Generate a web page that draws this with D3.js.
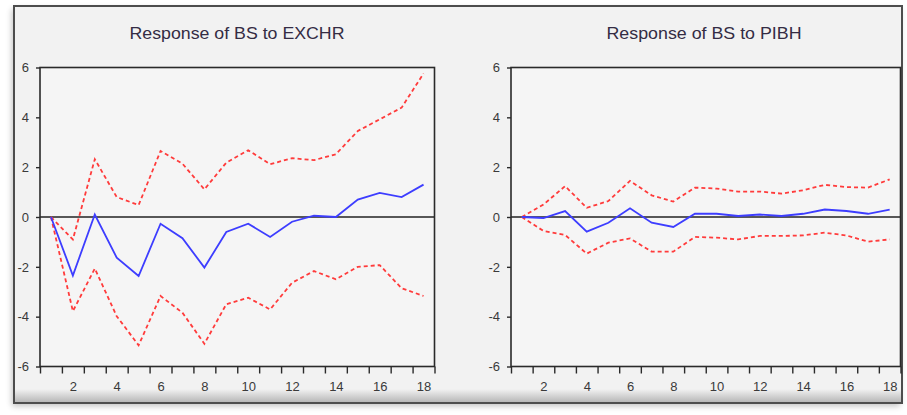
<!DOCTYPE html>
<html>
<head>
<meta charset="utf-8">
<script src="https://cdn.jsdelivr.net/npm/d3@7/dist/d3.min.js"></script>
<style>
  html, body { margin: 0; padding: 0; background: #ffffff; }
  svg { display: block; }
  text { font-family: "Liberation Sans", Arial, sans-serif; }
</style>
</head>
<body>
<svg id="chart" width="907" height="415"></svg>
<script>
// Impulse-response periods and axis ticks
const periods = d3.range(1, 19);
const yTicks = [-6, -4, -2, 0, 2, 4, 6];
const xTickLabels = [2, 4, 6, 8, 10, 12, 14, 16, 18];

// Response of BS to EXCHR: point estimate and +/- 2 S.E. bands
const exchrResponse = [0, -2.35, 0.1, -1.63, -2.37, -0.27, -0.85, -2.03, -0.6, -0.27, -0.8, -0.19, 0.05, 0.0, 0.7, 0.97, 0.8, 1.3];
const exchrUpper    = [0, -0.9, 2.32, 0.8, 0.48, 2.65, 2.14, 1.11, 2.18, 2.68, 2.12, 2.36, 2.28, 2.52, 3.45, 3.92, 4.39, 5.76];
const exchrLower    = [0, -3.78, -2.07, -3.98, -5.15, -3.17, -3.84, -5.09, -3.5, -3.24, -3.71, -2.64, -2.17, -2.5, -2.0, -1.93, -2.86, -3.17];

// Response of BS to PIBH: point estimate and +/- 2 S.E. bands
const pibhResponse = [0, -0.04, 0.24, -0.59, -0.23, 0.35, -0.23, -0.4, 0.13, 0.13, 0.04, 0.1, 0.04, 0.13, 0.3, 0.24, 0.13, 0.3];
const pibhUpper    = [0, 0.5, 1.24, 0.37, 0.64, 1.45, 0.87, 0.62, 1.18, 1.14, 1.02, 1.02, 0.94, 1.07, 1.29, 1.2, 1.18, 1.51];
const pibhLower    = [0, -0.56, -0.72, -1.47, -1.03, -0.86, -1.39, -1.39, -0.8, -0.83, -0.9, -0.76, -0.76, -0.74, -0.63, -0.74, -0.99, -0.9];

const panels = [
  { title: "Response of BS to EXCHR", left: 40, right: 434.5, titleX: 237, titleW: 215,
    response: exchrResponse, upper: exchrUpper, lower: exchrLower },
  { title: "Response of BS to PIBH", left: 511, right: 900.5, titleX: 704, titleW: 195,
    response: pibhResponse, upper: pibhUpper, lower: pibhLower }
];

const svg = d3.select("#chart");
const defs = svg.append("defs");

// soft shadow around the outer frame
const shadow = defs.append("filter").attr("id", "shadow")
  .attr("x", "-5%").attr("y", "-5%").attr("width", "110%").attr("height", "115%");
shadow.append("feGaussianBlur").attr("in", "SourceAlpha").attr("stdDeviation", 3);
shadow.append("feOffset").attr("dx", -2).attr("dy", 3).attr("result", "blur");
shadow.append("feComponentTransfer").append("feFuncA").attr("type", "linear").attr("slope", 0.25);
const merge = shadow.append("feMerge");
merge.append("feMergeNode");
merge.append("feMergeNode").attr("in", "SourceGraphic");

// bevel at the bottom edge of the frame
const bevel = defs.append("linearGradient").attr("id", "bevel")
  .attr("x1", 0).attr("y1", 0).attr("x2", 0).attr("y2", 1);
bevel.append("stop").attr("offset", "0%").attr("stop-color", "#f2f2f2");
bevel.append("stop").attr("offset", "100%").attr("stop-color", "#b8b8b8");

// outer frame
svg.append("rect")
  .attr("x", 14).attr("y", 6).attr("width", 888).attr("height", 397)
  .attr("fill", "#f2f2f2").attr("filter", "url(#shadow)");
svg.append("rect")
  .attr("x", 15).attr("y", 389).attr("width", 886).attr("height", 13)
  .attr("fill", "url(#bevel)");
svg.append("rect")
  .attr("x", 14).attr("y", 6).attr("width", 888).attr("height", 397)
  .attr("fill", "none").attr("stroke", "#4d4d4d").attr("stroke-width", 2);

const plotTop = 67.5, plotBottom = 366.5;
const y = d3.scaleLinear().domain([-6, 6]).range([plotBottom, plotTop]);
const plainNumber = d => String(d);   // hyphen-minus, as in the axis labels

panels.forEach(p => {
  const g = svg.append("g");
  const x = d3.scaleLinear().domain([0.5, 18.5]).range([p.left, p.right]);

  // plot background
  g.append("rect")
    .attr("x", p.left).attr("y", plotTop)
    .attr("width", p.right - p.left).attr("height", plotBottom - plotTop)
    .attr("fill", "#f5f5f5");

  // title
  g.append("text")
    .attr("x", p.titleX).attr("y", 38.5)
    .attr("text-anchor", "middle")
    .attr("font-size", 16.5)
    .attr("fill", "#342c44")
    .attr("textLength", p.titleW)
    .attr("lengthAdjust", "spacingAndGlyphs")
    .text(p.title);

  // zero line
  g.append("line")
    .attr("x1", p.left).attr("x2", p.right)
    .attr("y1", y(0)).attr("y2", y(0))
    .attr("stroke", "#222").attr("stroke-width", 1.5);

  const line = d3.line().x((d, i) => x(periods[i])).y(d => y(d));

  g.append("path").datum(p.upper)
    .attr("d", line).attr("fill", "none")
    .attr("stroke", "#ff3b3b").attr("stroke-width", 1.8)
    .attr("stroke-dasharray", "4,3");
  g.append("path").datum(p.lower)
    .attr("d", line).attr("fill", "none")
    .attr("stroke", "#ff3b3b").attr("stroke-width", 1.8)
    .attr("stroke-dasharray", "4,3");
  g.append("path").datum(p.response)
    .attr("d", line).attr("fill", "none")
    .attr("stroke", "#3d3dff").attr("stroke-width", 1.8);

  // plot frame
  g.append("rect")
    .attr("x", p.left).attr("y", plotTop)
    .attr("width", p.right - p.left).attr("height", plotBottom - plotTop)
    .attr("fill", "none").attr("stroke", "#2a2a2a").attr("stroke-width", 1.6);

  // y axis
  const yAxis = g.append("g")
    .attr("transform", `translate(${p.left},0)`)
    .call(d3.axisLeft(y).tickValues(yTicks).tickSize(4).tickPadding(7).tickFormat(plainNumber));
  yAxis.select(".domain").remove();
  yAxis.selectAll("line").attr("stroke", "#2a2a2a").attr("stroke-width", 1.4);
  yAxis.selectAll("text").attr("font-size", 13).attr("fill", "#3a3a3a")
    .attr("font-family", "'Liberation Sans', Arial, sans-serif");

  // x axis: tick marks at period boundaries, labels at even periods
  const xMarks = g.append("g")
    .attr("transform", `translate(0,${plotBottom})`)
    .call(d3.axisBottom(x).tickValues(d3.range(0.5, 19, 1)).tickSize(7).tickFormat(""));
  xMarks.select(".domain").remove();
  xMarks.selectAll("line").attr("stroke", "#2a2a2a").attr("stroke-width", 1.4);

  const xLabels = g.append("g")
    .attr("transform", `translate(0,${plotBottom})`)
    .call(d3.axisBottom(x).tickValues(xTickLabels).tickSize(0).tickPadding(15).tickFormat(plainNumber));
  xLabels.select(".domain").remove();
  xLabels.selectAll("text").attr("font-size", 13).attr("fill", "#3a3a3a")
    .attr("font-family", "'Liberation Sans', Arial, sans-serif");
});
</script>
</body>
</html>
